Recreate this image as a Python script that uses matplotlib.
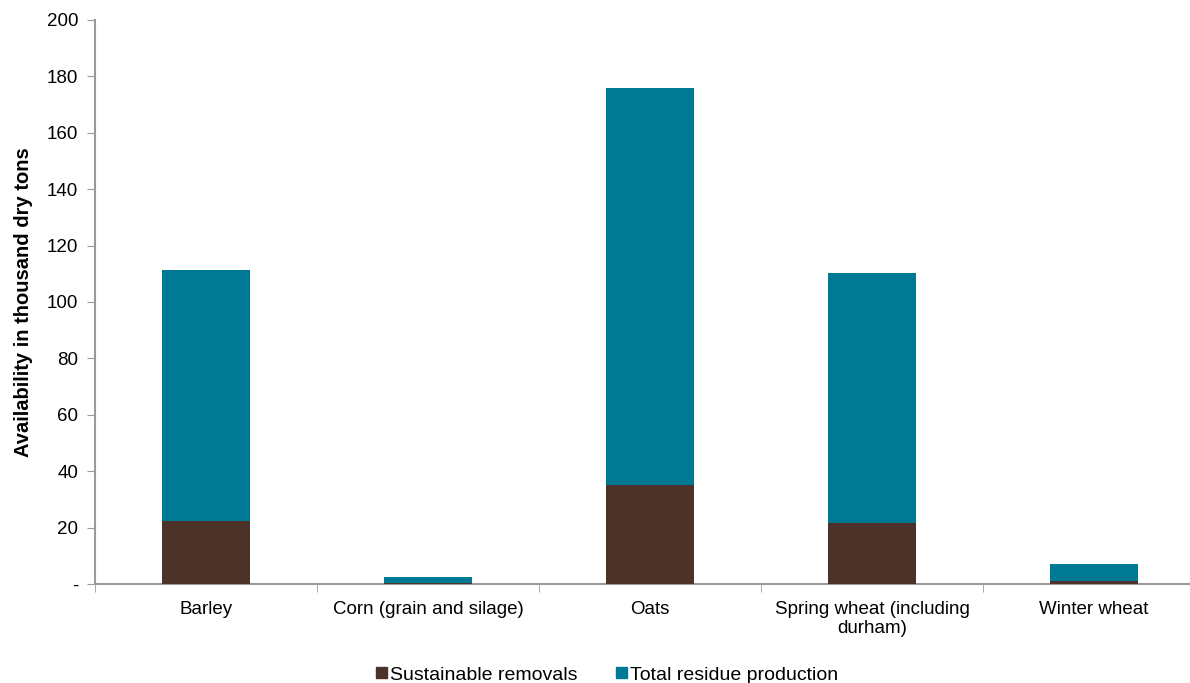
import matplotlib.pyplot as plt
import numpy as np
from matplotlib.patches import Patch

# Residue availability by crop, thousand dry tons
crops = ["Barley", "Corn (grain and silage)", "Oats",
         "Spring wheat (including\ndurham)", "Winter wheat"]
total_residue = [111.3, 2.5, 175.9, 110.3, 7.1]
sustainable_removals = [22.3, 0.4, 35.1, 21.6, 1.0]

yticks = [0, 20, 40, 60, 80, 100, 120, 140, 160, 180, 200]
ytick_labels = ["-"] + [str(v) for v in yticks[1:]]

plt.rcParams['font.family'] = ['Liberation Sans', 'DejaVu Sans']

removal_color = "#4D3229"
total_color = "#007A94"
axis_color = "#9a9a9a"

fig = plt.figure(figsize=(11.9, 6.83), dpi=100)
ax = fig.add_axes([95 / 1190, 1 - 584 / 683, 1110 / 1190, 564 / 683])

x = np.arange(len(crops))
width = 0.4
ax.bar(x, total_residue, width, color=total_color, zorder=2)
ax.bar(x, sustainable_removals, width, color=removal_color, zorder=3)

ax.set_xlim(-0.5, len(crops) - 0.5)
ax.set_ylim(0, 200)
ax.set_yticks(yticks)
ax.set_yticklabels(ytick_labels, fontsize=13.5)

# category labels centred under bars, ticks at category boundaries
ax.set_xticks(x)
ax.set_xticklabels(crops, fontsize=13.5, linespacing=1.15)
ax.tick_params(axis='x', which='major', length=0, pad=12)
ax.set_xticks(np.arange(-0.5, len(crops)), minor=True)
ax.tick_params(axis='x', which='minor', length=6, color=axis_color, direction='out')
ax.tick_params(axis='y', length=6, color=axis_color, direction='out', pad=6)

for side in ("top", "right"):
    ax.spines[side].set_visible(False)
for side in ("left", "bottom"):
    ax.spines[side].set_color(axis_color)
    ax.spines[side].set_linewidth(1.5)

ax.set_ylabel("Availability in thousand dry tons", fontsize=14.5,
              fontweight='bold', labelpad=10)

handles = [Patch(color=removal_color, label="Sustainable removals"),
           Patch(color=total_color, label="Total residue production")]
fig.legend(handles=handles, loc='center', bbox_to_anchor=(0.51, 1 - 675 / 683),
           ncol=2, frameon=False, fontsize=14, handlelength=0.55,
           handleheight=0.55, handletextpad=0.15, columnspacing=2.0)

fig.savefig("out.png", dpi=100)
